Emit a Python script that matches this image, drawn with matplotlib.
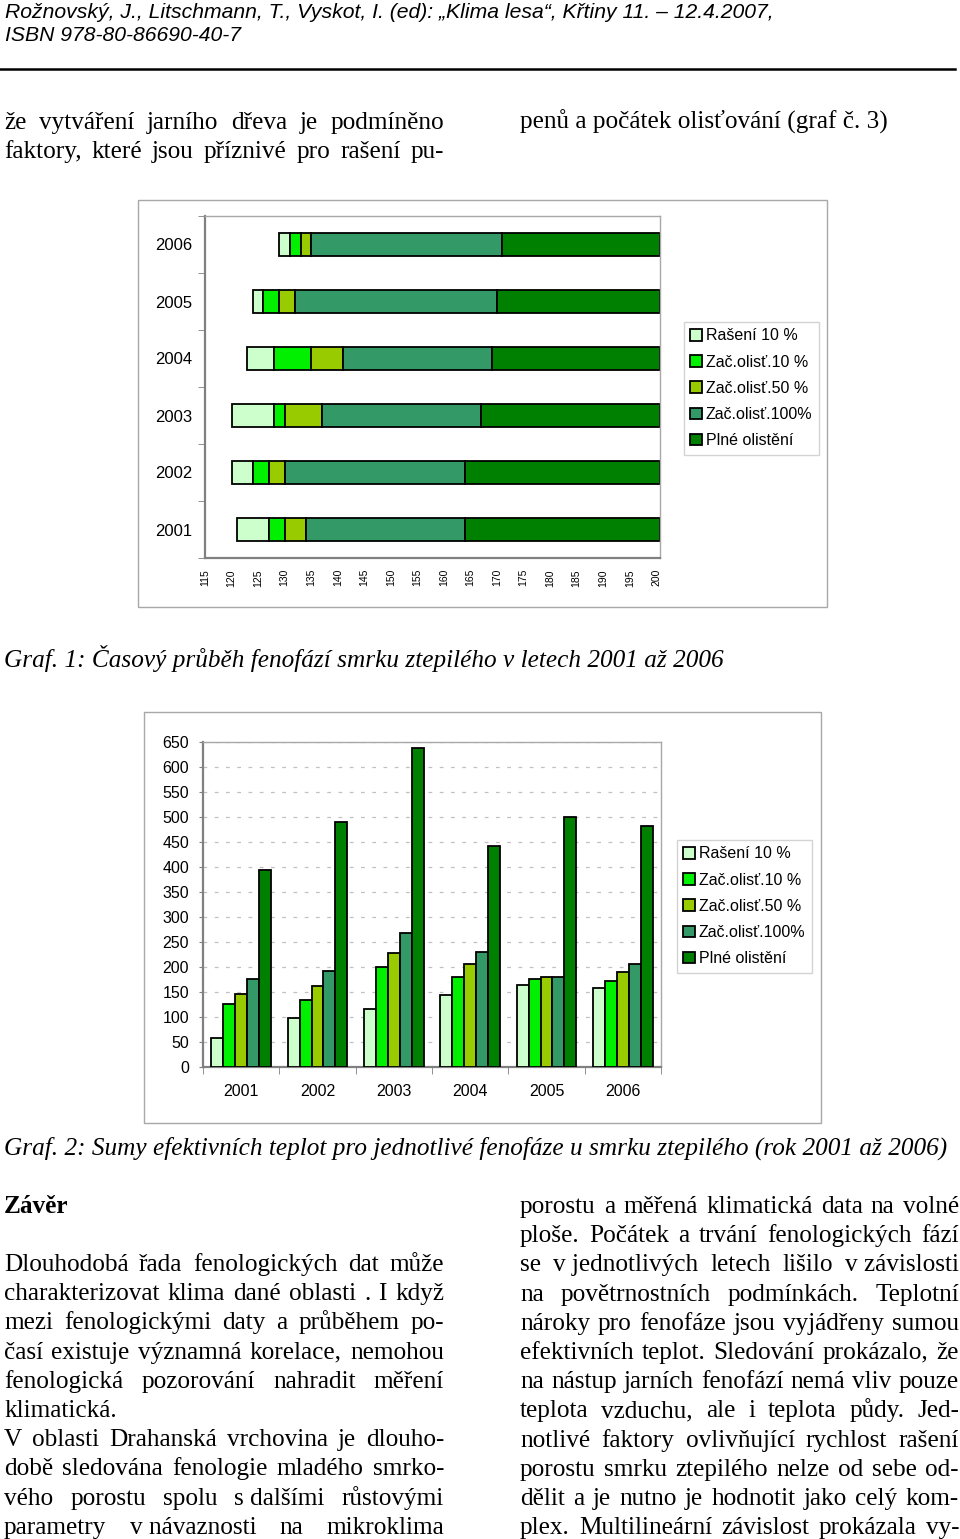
import matplotlib
matplotlib.use('Agg')
import matplotlib.pyplot as plt
from matplotlib.patches import Rectangle
import numpy as np

W, H = 960, 1539

# --- data, graf 1 (day of year when each phase starts) ---
years = ['2001', '2002', '2003', '2004', '2005', '2006']
phases = ['Rašení 10 %', 'Zač.olisť.10 %', 'Zač.olisť.50 %', 'Zač.olisť.100%', 'Plné olistění']
colors = ['#CCFFCC', '#00F000', '#99CC00', '#339966', '#008000']

rasheni = [121, 120, 120, 123, 124, 129]
zac10 = [127, 124, 128, 128, 126, 131]
zac50 = [130, 127, 130, 135, 129, 133]
zac100 = [134, 130, 137, 141, 132, 135]
plne = [164, 164, 167, 169, 170, 171]
day_ticks = list(range(115, 201, 5))

# --- data, graf 2 (sums of effective temperatures) ---
sum_rasheni = [59, 99, 117, 145, 165, 158]
sum_zac10 = [127, 135, 200, 181, 177, 173]
sum_zac50 = [146, 162, 229, 207, 180, 191]
sum_zac100 = [176, 193, 269, 231, 180, 206]
sum_plne = [395, 491, 639, 443, 501, 483]
temp_ticks = list(range(0, 651, 50))

fig = plt.figure(figsize=(W / 100, H / 100), dpi=100)
fig.patch.set_facecolor('white')
renderer = fig.canvas.get_renderer()


def fx(x):
    return x / W


def fy(y):
    return 1 - y / H


def text_width(s, **kw):
    t = fig.text(0, 0, s, **kw)
    w = t.get_window_extent(renderer).width
    t.remove()
    return w


def put_line(x0, x1, y, s, justify=True, **kw):
    words = s.split(' ')
    if not justify or len(words) == 1:
        fig.text(fx(x0), fy(y), s, va='baseline', **kw)
        return
    widths = [text_width(w, **kw) for w in words]
    gap = (x1 - x0 - sum(widths)) / (len(words) - 1)
    x = x0
    for w, wd in zip(words, widths):
        fig.text(fx(x), fy(y), w, va='baseline', **kw)
        x += wd + gap


serif = dict(family='Liberation Serif', size=18.2)
sans = 'Liberation Sans'

# header
fig.text(fx(5), fy(18), 'Rožnovský, J., Litschmann, T., Vyskot, I. (ed): „Klima lesa“, Křtiny 11. – 12.4.2007,',
         family=sans, style='italic', size=15.2, va='baseline')
fig.text(fx(5), fy(41), 'ISBN 978-80-86690-40-7', family=sans, style='italic', size=15.2, va='baseline')
fig.add_artist(plt.Line2D([fx(0), fx(955)], [fy(69), fy(69)], color='black', lw=1.8))

# top text
put_line(4, 444, 129, 'že vytváření jarního dřeva je podmíněno', **serif)
put_line(4, 444, 158, 'faktory, které jsou příznivé pro rašení pu-', **serif)
put_line(520, 959, 129, 'penů a počátek olisťování (graf č. 3)', justify=False, **serif)

# ---------------- graf 1 ----------------
fig.add_artist(Rectangle((fx(138), fy(607)), fx(827) - fx(138), fy(200) - fy(607),
                         transform=fig.transFigure, fill=False, ec='#a8a8a8', lw=1))
ax1 = fig.add_axes([fx(205), fy(558), fx(660) - fx(205), fy(216) - fy(558)])
ax1.set_xlim(115, 200.7)
ax1.set_ylim(-0.5, 5.5)
pos = np.arange(len(years))
starts = [rasheni, zac10, zac50, zac100, plne]
xmax = ax1.get_xlim()[1]
for i, (name, col) in enumerate(zip(phases, colors)):
    left = np.array(starts[i])
    right = np.array(starts[i + 1]) if i < 4 else np.full(len(years), xmax)
    ax1.barh(pos, right - left, left=left, height=0.42, color=col, edgecolor='black',
             linewidth=1.3, label=name)
ax1.set_yticks(pos)
ax1.set_yticklabels(years, family=sans, fontsize=12)
ax1.set_yticks(np.arange(-0.5, 6, 1), minor=True)
ax1.tick_params(axis='y', which='major', length=0, pad=9)
ax1.tick_params(axis='y', which='minor', length=5, color='#808080', direction='out')
ax1.set_xticks(day_ticks)
ax1.set_xticklabels([str(d) for d in day_ticks], rotation=90, family=sans, fontsize=7.5)
ax1.tick_params(axis='x', length=0, pad=8)
for s in ['left', 'bottom']:
    ax1.spines[s].set_color('#808080')
    ax1.spines[s].set_linewidth(1.6)
for s in ['top', 'right']:
    ax1.spines[s].set_color('#a8a8a8')
    ax1.spines[s].set_linewidth(1)
leg1 = ax1.legend(loc='upper left', bbox_to_anchor=(fx(684), fy(322)), bbox_transform=fig.transFigure,
                  prop={'family': sans, 'size': 11.5}, frameon=True, fancybox=False,
                  edgecolor='#c8c8c8', handlelength=0.75, handleheight=0.75, handletextpad=0.2,
                  labelspacing=0.7, borderpad=0.4, borderaxespad=0)
leg1.get_frame().set_linewidth(1)

# caption 1
fig.text(fx(4), fy(667), 'Graf. 1: Časový průběh fenofází smrku ztepilého v letech 2001 až 2006',
         family='Liberation Serif', style='italic', size=18.2, va='baseline')

# ---------------- graf 2 ----------------
fig.add_artist(Rectangle((fx(144), fy(1123)), fx(821) - fx(144), fy(712) - fy(1123),
                         transform=fig.transFigure, fill=False, ec='#a8a8a8', lw=1))
ax2 = fig.add_axes([fx(203), fy(1067), fx(661) - fx(203), fy(742) - fy(1067)])
series = [sum_rasheni, sum_zac10, sum_zac50, sum_zac100, sum_plne]
bw = 0.156
for i, (vals, col, name) in enumerate(zip(series, colors, phases)):
    ax2.bar(pos + (i - 2) * bw, vals, width=bw, color=col, edgecolor='black', linewidth=1.3,
            label=name, zorder=3)
ax2.set_xlim(-0.5, 5.5)
ax2.set_ylim(0, 650)
ax2.set_yticks(temp_ticks)
ax2.set_yticklabels([str(t) for t in temp_ticks], family=sans, fontsize=11.5)
ax2.tick_params(axis='y', length=3, color='#808080', pad=7)
ax2.set_xticks(pos)
ax2.set_xticklabels(years, family=sans, fontsize=11.5)
ax2.set_xticks(np.arange(-0.5, 6, 1), minor=True)
ax2.tick_params(axis='x', which='major', length=0, pad=12)
ax2.tick_params(axis='x', which='minor', length=5, color='#808080')
ax2.yaxis.grid(True, color='#c0c0c0', linestyle=(0, (3, 6)), linewidth=0.9, zorder=0)
ax2.set_axisbelow(True)
for s in ['left', 'bottom']:
    ax2.spines[s].set_color('#808080')
    ax2.spines[s].set_linewidth(1.6)
for s in ['top', 'right']:
    ax2.spines[s].set_color('#a8a8a8')
    ax2.spines[s].set_linewidth(1)
leg2 = ax2.legend(loc='upper left', bbox_to_anchor=(fx(677), fy(840)), bbox_transform=fig.transFigure,
                  prop={'family': sans, 'size': 11.5}, frameon=True, fancybox=False,
                  edgecolor='#c8c8c8', handlelength=0.75, handleheight=0.75, handletextpad=0.2,
                  labelspacing=0.7, borderpad=0.4, borderaxespad=0)
leg2.get_frame().set_linewidth(1)

# caption 2
fig.text(fx(4), fy(1155), 'Graf. 2: Sumy efektivních teplot pro jednotlivé fenofáze u smrku ztepilého (rok 2001 až 2006)',
         family='Liberation Serif', style='italic', size=18.2, va='baseline')

# ---------------- Závěr ----------------
fig.text(fx(4), fy(1213), 'Závěr', family='Liberation Serif', weight='bold', size=18.2, va='baseline')

left_lines = [
    ('Dlouhodobá řada fenologických dat může', True),
    ('charakterizovat klima dané oblasti . I když', True),
    ('mezi fenologickými daty a průběhem po-', True),
    ('časí existuje významná korelace, nemohou', True),
    ('fenologická pozorování nahradit měření', True),
    ('klimatická.', False),
    ('V oblasti Drahanská vrchovina je dlouho-', True),
    ('době sledována fenologie mladého smrko-', True),
    ('vého porostu spolu s\u00a0dalšími růstovými', True),
    ('parametry v\u00a0návaznosti na mikroklima', True),
]
right_lines = [
    'porostu a měřená klimatická data na volné',
    'ploše. Počátek a trvání fenologických fází',
    'se v\u00a0jednotlivých letech lišilo v\u00a0závislosti',
    'na povětrnostních podmínkách. Teplotní',
    'nároky pro fenofáze jsou vyjádřeny sumou',
    'efektivních teplot. Sledování prokázalo, že',
    'na nástup jarních fenofází nemá vliv pouze',
    'teplota vzduchu, ale i teplota půdy. Jed-',
    'notlivé faktory ovlivňující rychlost rašení',
    'porostu smrku ztepilého nelze od sebe od-',
    'dělit a je nutno je hodnotit jako celý kom-',
    'plex. Multilineární závislost prokázala vy-',
]
for k, (line, just) in enumerate(left_lines):
    put_line(4, 444, 1271 + k * 29.2, line, justify=just, **serif)
for k, line in enumerate(right_lines):
    put_line(520, 959, 1213 + k * 29.2, line, **serif)

fig.savefig('out.png', dpi=100, facecolor='white')
